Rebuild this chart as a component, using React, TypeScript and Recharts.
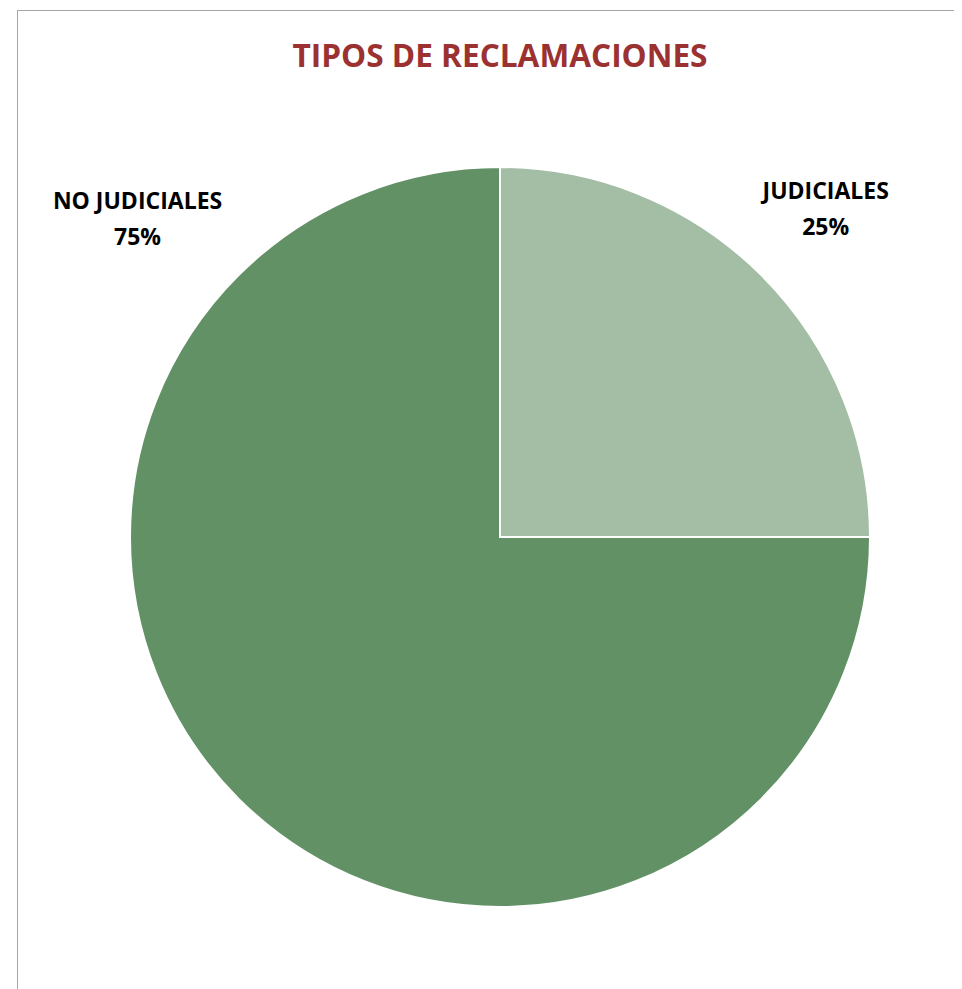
import React from "react";
import { PieChart, Pie, Cell } from "recharts";

const categories = ["JUDICIALES", "NO JUDICIALES"];
const values = [25, 75];
const percentLabels = ["25%", "75%"];
const colors = ["#A3BEA5", "#629166"];

const data = categories.map((name, i) => ({ name, value: values[i], pct: percentLabels[i] }));

const W = 954;
const H = 981;
const CX = 492;
const CY = 529;
const R = 370;

const renderLabel = (props: any) => {
  const { cx, cy, midAngle, index, outerRadius } = props;
  // Excel-like outside-end label placement
  let angle = midAngle;
  let dist = outerRadius * 1.245;
  if (index === 1) {
    angle = 138.9;
    dist = outerRadius * 1.3;
  }
  const rad = (Math.PI / 180) * angle;
  const x = cx + dist * Math.cos(rad);
  const y = cy - dist * Math.sin(rad);
  const d = data[index];
  return (
    <text
      x={x}
      y={y}
      textAnchor="middle"
      fill="#000"
      fontFamily="'Open Sans', sans-serif"
      fontWeight={700}
      fontSize={23}
    >
      <tspan x={x} dy={-12}>{d.name}</tspan>
      <tspan x={x} dy={36}>{d.pct}</tspan>
    </text>
  );
};

export default function App() {
  return (
    <div style={{ position: "relative", width: W, height: H }}>
      <div
        style={{
          position: "absolute",
          left: 9,
          top: 2,
          width: W - 9,
          height: H - 2,
          borderTop: "1px solid #a6a6a6",
          borderLeft: "1px solid #a6a6a6",
          boxSizing: "border-box",
        }}
      />
      <div style={{ position: "absolute", left: 0, top: 0 }}>
        <PieChart width={W} height={H} margin={{ top: 0, right: 0, bottom: 0, left: 0 }}>
          <text
            x={CX}
            y={59}
            textAnchor="middle"
            fill="#9B3131"
            fontFamily="'Open Sans', sans-serif"
            fontWeight={700}
            fontSize={31.6}
          >
            TIPOS DE RECLAMACIONES
          </text>
          <Pie
            data={data}
            dataKey="value"
            nameKey="name"
            cx={CX}
            cy={CY}
            outerRadius={R}
            startAngle={90}
            endAngle={-270}
            stroke="#ffffff"
            strokeWidth={2}
            label={renderLabel}
            labelLine={false}
            isAnimationActive={false}
          >
            {data.map((d, i) => (
              <Cell key={d.name} fill={colors[i]} />
            ))}
          </Pie>
        </PieChart>
      </div>
    </div>
  );
}
